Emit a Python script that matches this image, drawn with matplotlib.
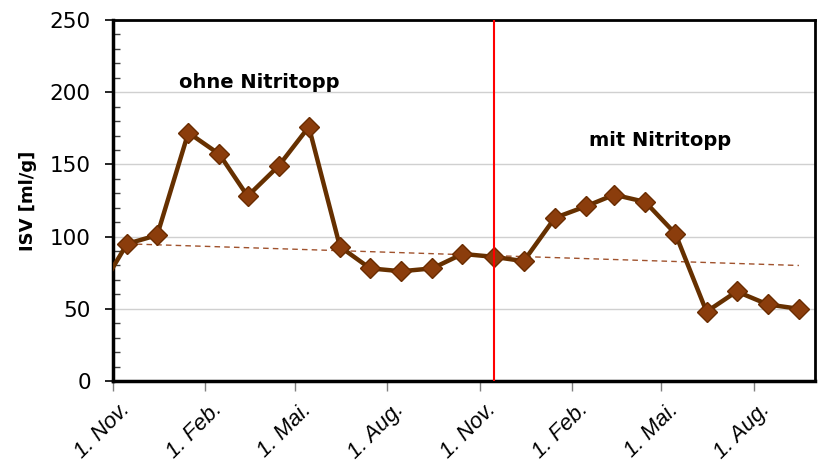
import matplotlib
matplotlib.use("Agg")
import matplotlib.pyplot as plt
import matplotlib.dates as mdates
from matplotlib.ticker import MultipleLocator, FixedLocator
import matplotlib.transforms as mtransforms
import datetime as dt

# ---- data ----
dates = ["2000-10-15", "2000-11-15", "2000-12-15", "2001-01-15", "2001-02-15",
         "2001-03-15", "2001-04-15", "2001-05-15", "2001-06-15", "2001-07-15",
         "2001-08-15", "2001-09-15", "2001-10-15", "2001-11-15", "2001-12-15",
         "2002-01-15", "2002-02-15", "2002-03-15", "2002-04-15", "2002-05-15",
         "2002-06-15", "2002-07-15", "2002-08-15", "2002-09-15"]
isv = [59, 95, 101, 172, 157, 128, 149, 176, 93, 78, 76, 78, 88, 86, 83,
       113, 121, 129, 124, 102, 48, 62, 53, 50]
trend_dates = ["2000-11-15", "2002-09-15"]
trend_vals = [95, 80]
switch_date = "2001-11-15"
tick_dates = ["2000-11-01", "2001-02-01", "2001-05-01", "2001-08-01",
              "2001-11-01", "2002-02-01", "2002-05-01", "2002-08-01"]
tick_labels = ["1. Nov.", "1. Feb.", "1. Mai.", "1. Aug.",
               "1. Nov.", "1. Feb.", "1. Mai.", "1. Aug."]
x_start, x_end = "2000-11-01", "2002-10-01"
y_label = "ISV [ml/g]"
note_left = "ohne Nitritopp"
note_right = "mit Nitritopp"

def d(s):
    return mdates.date2num(dt.datetime.strptime(s, "%Y-%m-%d"))

fig = plt.figure(figsize=(8.24, 4.66), dpi=100)
ax = fig.add_axes([113/824, 1 - 381/466, (815-113)/824, (381-20)/466])

xs = [d(s) for s in dates]
ax.plot(xs, isv, color="#663000", lw=3.2, marker="D", ms=10,
        markerfacecolor="#8b3d0c", markeredgecolor="#6a2c00", markeredgewidth=1,
        zorder=4, clip_on=True)
ax.plot([d(s) for s in trend_dates], trend_vals, color="#a0522d", lw=1,
        ls=(0, (4, 3)), zorder=3)
ax.axvline(d(switch_date), color="#ff0000", lw=1.5, zorder=5)

ax.set_xlim(d(x_start), d(x_end))
ax.set_ylim(0, 250)
ax.yaxis.set_major_locator(MultipleLocator(50))
ax.yaxis.set_minor_locator(MultipleLocator(10))
ax.grid(axis="y", which="major", color="#d0d0d0", lw=1, zorder=0)
ax.set_axisbelow(True)

ax.tick_params(axis="x", which="major", direction="out", length=7, width=1,
               color="#808080", pad=4)
ax.tick_params(axis="y", which="major", direction="out", length=6, width=1.2,
               labelsize=15.5, pad=10)
ax.tick_params(axis="y", which="minor", direction="in", length=5, width=1,
               color="#404040")

ax.xaxis.set_major_locator(FixedLocator([d(s) for s in tick_dates]))
ax.set_xticklabels(tick_labels, rotation=45, ha="right", va="top",
                   rotation_mode="anchor", fontsize=16, style="italic",
                   family="Liberation Sans")
offset = mtransforms.ScaledTranslation(6/100, -3/100, fig.dpi_scale_trans)
for lab in ax.get_xticklabels():
    lab.set_transform(lab.get_transform() + offset)

for lab in ax.get_yticklabels():
    lab.set_family("DejaVu Sans")

for side in ["top", "right"]:
    ax.spines[side].set_linewidth(2)
for side in ["left", "bottom"]:
    ax.spines[side].set_linewidth(2.5)

ax.set_ylabel(y_label, fontsize=13, fontweight="bold", labelpad=9)

ax.text(0.208, 0.828, note_left, transform=ax.transAxes, ha="center",
        va="center", fontsize=14, fontweight="bold")
ax.text(0.780, 0.665, note_right, transform=ax.transAxes, ha="center",
        va="center", fontsize=14, fontweight="bold")

fig.savefig("out.png", dpi=100)
